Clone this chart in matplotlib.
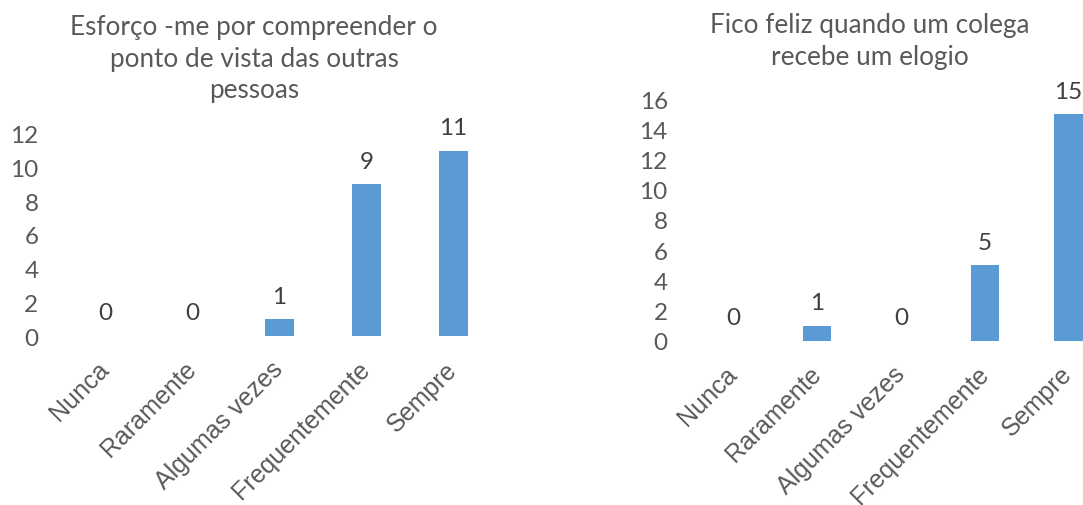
import matplotlib
matplotlib.use("Agg")
import matplotlib.pyplot as plt

# Survey answers (counts per category) for two statements
categorias = ["Nunca", "Raramente", "Algumas vezes", "Frequentemente", "Sempre"]
esforco = [0, 0, 1, 9, 11]
feliz = [0, 1, 0, 5, 15]

titulo_esq = ["Esforço -me por compreender o", "ponto de vista das outras", "pessoas"]
titulo_dir = ["Fico feliz quando um colega", "recebe um elogio"]

cor_barra = "#5B9BD5"
cor_texto = "#595959"
cor_valor = "#404040"
fonte_num = "Lato"
fonte_cat = "Liberation Sans"

W, H = 1083, 506
fig = plt.figure(figsize=(W / 100, H / 100), dpi=100)


def px_axes(left, right, bottom, top):
    # axes box given in pixel coordinates measured from the top-left corner
    return fig.add_axes([left / W, 1 - bottom / H, (right - left) / W, (bottom - top) / H])


def desenha(ax, valores, ymax, passo, xmax):
    x = range(len(categorias))
    ax.bar(x, valores, width=0.335, color=cor_barra, clip_on=False)
    for xi, v in zip(x, valores):
        ax.annotate(str(v), (xi, v), xytext=(0, 9), textcoords="offset points",
                    ha="center", va="bottom", fontsize=17.5, family=fonte_num,
                    color=cor_valor, annotation_clip=False)
    ax.set_xlim(-0.5, xmax)
    ax.set_ylim(0, ymax)
    ax.set_yticks(range(0, ymax + 1, passo))
    ax.set_xticks(list(x))
    ax.set_xticklabels(categorias, rotation=45, ha="right", va="center",
                       rotation_mode="anchor")
    for lbl in ax.get_xticklabels():
        lbl.set_fontfamily(fonte_cat)
        lbl.set_fontsize(18)
        lbl.set_color(cor_texto)
    for lbl in ax.get_yticklabels():
        lbl.set_fontfamily(fonte_num)
        lbl.set_fontsize(17.5)
        lbl.set_color(cor_texto)
    ax.tick_params(length=0)
    ax.tick_params(axis="y", pad=17)
    ax.tick_params(axis="x", pad=21)
    for s in ax.spines.values():
        s.set_visible(False)


ax1 = px_axes(62, 497, 337, 134.8)
desenha(ax1, esforco, 12, 2, 4.5)

ax2 = px_axes(691.3, 1083, 341.7, 100.1)
desenha(ax2, feliz, 16, 2, 4.173)

# chart titles, one line at a time
for txt, yb in zip(titulo_esq, [35, 67, 98]):
    fig.text(254 / W, 1 - yb / H, txt, ha="center", va="baseline",
             fontsize=18.8, family=fonte_num, color=cor_texto)
for txt, yb in zip(titulo_dir, [33, 65]):
    fig.text(870 / W, 1 - yb / H, txt, ha="center", va="baseline",
             fontsize=18.8, family=fonte_num, color=cor_texto)

fig.savefig("out.png", dpi=100)
